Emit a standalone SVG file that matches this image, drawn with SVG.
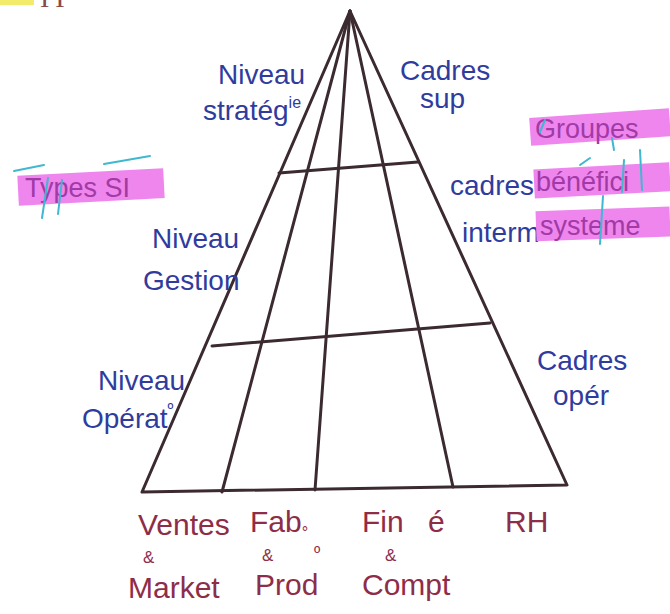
<svg xmlns="http://www.w3.org/2000/svg" width="670" height="614" viewBox="0 0 670 614">
<style>
.ln{stroke:#3b2a30;stroke-width:3;fill:none;stroke-linecap:round;stroke-linejoin:round}
.bl{font-family:"Liberation Sans",Arial,sans-serif;font-size:28px;fill:#2f3c9e}
.mr{font-family:"Liberation Sans",Arial,sans-serif;font-size:30px;fill:#8e2d48}
.sm{font-family:"Liberation Sans",Arial,sans-serif;font-size:17px;fill:#8e2d48}
.hl{fill:#ee86ee}
.ht{font-family:"Liberation Sans",Arial,sans-serif;font-size:27px;fill:#a23aa6}
.cy{stroke:#3fb8d0;stroke-width:2;fill:none;stroke-linecap:round}
</style>
<rect width="670" height="614" fill="#ffffff"/>
<g id="header-fragment">
<rect x="0" y="0" width="34" height="5" fill="#f3ec6a"/>
<text x="40" y="7" font-family="Liberation Serif,serif" font-size="28" fill="#8a4a4a" letter-spacing="6">II</text>
</g>
<g id="pyramid">
<polyline class="ln" points="142,492 350,11 567,485 142,492"/>
<line class="ln" x1="350" y1="11" x2="222" y2="492"/>
<line class="ln" x1="350" y1="11" x2="315" y2="490"/>
<line class="ln" x1="350" y1="11" x2="453" y2="487"/>
<line class="ln" x1="279" y1="173" x2="418" y2="162"/>
<line class="ln" x1="212" y1="346" x2="490" y2="323"/>
</g>
<g id="types-si">
<rect class="hl" x="18" y="172" width="146" height="30" transform="rotate(-3 90 187)"/>
<text class="ht" x="25" y="197" fill="#8a38b0">Types SI</text>
<path class="cy" d="M14 171 L44 165 M48 178 L42 218 M62 180 L58 214 M104 164 L150 156"/>
</g>
<g id="niveau-strategique">
<text class="bl" x="218" y="84">Niveau</text>
<text class="bl" x="203" y="120">stratég<tspan font-size="16" dy="-12">ie</tspan></text>
</g>
<g id="niveau-gestion">
<text class="bl" x="152" y="248">Niveau</text>
<text class="bl" x="143" y="290">Gestion</text>
</g>
<g id="niveau-operationnel">
<text class="bl" x="98" y="390">Niveau</text>
<text class="bl" x="82" y="428">Opérat<tspan font-size="16" dy="-14">º</tspan></text>
</g>
<g id="cadres-sup">
<text class="bl" x="400" y="80">Cadres</text>
<text class="bl" x="420" y="108">sup</text>
</g>
<g id="cadres-interm">
<text class="bl" x="450" y="195">cadres</text>
<text class="bl" x="462" y="242">interm</text>
</g>
<g id="cadres-oper">
<text class="bl" x="537" y="370">Cadres</text>
<text class="bl" x="553" y="405">opér</text>
</g>
<g id="groupes-beneficiaires">
<rect class="hl" x="530" y="113" width="140" height="28" transform="rotate(-4 600 127)"/>
<rect class="hl" x="534" y="166" width="136" height="29" transform="rotate(-3 600 180)"/>
<rect class="hl" x="536" y="209" width="134" height="30" transform="rotate(-2 600 224)"/>
<text class="ht" x="535" y="138">Groupes</text>
<text class="ht" x="536" y="191">bénéfici</text>
<text class="ht" x="540" y="235">systeme</text>
<path class="cy" d="M545 120 L540 132 M612 138 L614 150 M580 165 L590 158 M624 160 L622 192 M640 150 L642 190 M603 196 L600 244"/>
</g>
<g id="fonctions">
<text class="mr" x="138" y="535">Ventes</text>
<text class="sm" x="143" y="563">&amp;</text>
<text class="mr" x="128" y="598">Market</text>
<text class="mr" x="250" y="532">Fab<tspan font-size="16" dy="6">°</tspan></text>
<text class="sm" x="262" y="561">&amp;</text>
<text class="sm" x="314" y="559">º</text>
<text class="mr" x="255" y="595">Prod</text>
<text class="mr" x="362" y="532">Fin</text>
<text class="mr" x="428" y="532">é</text>
<text class="sm" x="385" y="561">&amp;</text>
<text class="mr" x="362" y="595">Compt</text>
<text class="mr" x="505" y="532">RH</text>
</g>
</svg>
